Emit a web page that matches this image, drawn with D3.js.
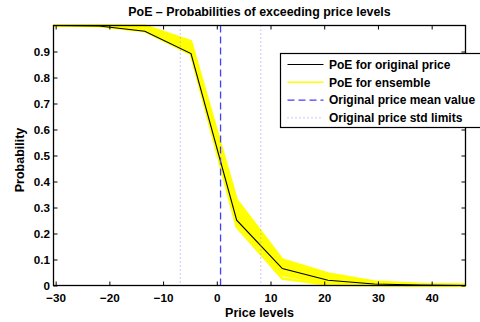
<!DOCTYPE html>
<html>
<head>
<meta charset="utf-8">
<script src="https://cdn.jsdelivr.net/npm/d3@7"></script>
<style>
  body { margin: 0; background: #fff; }
  svg text { font-family: "Liberation Sans", Arial, Helvetica, sans-serif; font-weight: bold; }
</style>
</head>
<body>
<svg width="480" height="322"></svg>
<script>
// price levels (x) and PoE for original price
var priceLevels = [-30.4, -21.9, -13.4, -4.8, 3.7, 12.2, 20.7, 29.3, 37.8, 46.3];
var poeOriginal = [1.0, 0.998, 0.978, 0.892, 0.251, 0.065, 0.02, 0.006, 0.002, 0.0];

// ensemble members
var ens1  = [1, 1,     1,     0.94,  0.33,  0.10,  0.046, 0.015, 0.006, 0.003];
var ens2  = [1, 1,     0.998, 0.93,  0.315, 0.092, 0.04,  0.012, 0.005, 0.002];
var ens3  = [1, 1,     0.995, 0.925, 0.30,  0.086, 0.035, 0.010, 0.004, 0.002];
var ens4  = [1, 1,     0.992, 0.918, 0.29,  0.080, 0.030, 0.009, 0.004, 0.001];
var ens5  = [1, 1,     0.99,  0.91,  0.28,  0.074, 0.027, 0.008, 0.003, 0.001];
var ens6  = [1, 1,     0.988, 0.905, 0.27,  0.068, 0.024, 0.007, 0.003, 0.001];
var ens7  = [1, 0.999, 0.985, 0.90,  0.26,  0.060, 0.019, 0.006, 0.002, 0.001];
var ens8  = [1, 0.999, 0.982, 0.896, 0.25,  0.050, 0.014, 0.004, 0.002, 0];
var ens9  = [1, 0.998, 0.98,  0.892, 0.24,  0.040, 0.009, 0.003, 0.001, 0];
var ens10 = [1, 0.998, 0.978, 0.89,  0.225, 0.027, 0.003, 0.001, 0,     0];
var ensemble = [ens1, ens2, ens3, ens4, ens5, ens6, ens7, ens8, ens9, ens10];

var priceMean = 0.7;
var priceStdLimits = [-6.8, 8.2];

var xTicks = [-30, -20, -10, 0, 10, 20, 30, 40];
var yTicks = [0, 0.1, 0.2, 0.3, 0.4, 0.5, 0.6, 0.7, 0.8, 0.9];

var legendLabels = ["PoE for original price", "PoE for ensemble",
                    "Original price mean value", "Original price std limits"];

var svg = d3.select("svg");
var pLeft = 53.5, pRight = 465.5, pTop = 25.5, pBottom = 285.5;

var x = d3.scaleLinear().domain([priceLevels[0], priceLevels[priceLevels.length - 1]]).range([pLeft, pRight]);
var y = d3.scaleLinear().domain([0, 1]).range([pBottom, pTop]);

var line = d3.line()
  .x(function(d, i) { return x(priceLevels[i]); })
  .y(function(d) { return y(d); });

var plot = svg.append("g");

plot.selectAll("path.ens")
    .data(ensemble)
  .enter()
  .append("path")
    .attr("class", "ens")
    .attr("d", line)
    .attr("fill", "none")
    .attr("stroke", "#ffff00")
    .attr("stroke-width", 2.5);

plot.append("path")
    .attr("d", line(poeOriginal))
    .attr("fill", "none")
    .attr("stroke", "#000")
    .attr("stroke-width", 1.1);

plot.append("line")
    .attr("x1", x(priceMean)).attr("x2", x(priceMean))
    .attr("y1", pTop).attr("y2", pBottom)
    .attr("stroke", "#4040ff")
    .attr("stroke-width", 1.3)
    .attr("stroke-dasharray", "7,4");

plot.selectAll("line.std")
    .data(priceStdLimits)
  .enter()
  .append("line")
    .attr("class", "std")
    .attr("x1", function(d) { return x(d); }).attr("x2", function(d) { return x(d); })
    .attr("y1", pTop).attr("y2", pBottom)
    .attr("stroke", "#8f8fff")
    .attr("stroke-width", 1)
    .attr("stroke-dasharray", "1,3");

// axes, MATLAB style with inward ticks and a box
svg.append("g")
    .attr("transform", "translate(0," + pBottom + ")")
    .call(d3.axisBottom(x).tickValues(xTicks).tickSizeInner(-4).tickSizeOuter(0).tickPadding(8)
      .tickFormat(function(d) { return d < 0 ? "\u2212" + Math.abs(d) : d; }));
svg.append("g")
    .attr("transform", "translate(0," + pTop + ")")
    .call(d3.axisTop(x).tickValues(xTicks).tickSizeInner(-4).tickSizeOuter(0).tickFormat(""));
svg.append("g")
    .attr("transform", "translate(" + pLeft + ",0)")
    .call(d3.axisLeft(y).tickValues(yTicks).tickSizeInner(-4).tickSizeOuter(0).tickPadding(3.5)
      .tickFormat(function(d) { return d === 0 ? "0" : d3.format(".1f")(d); }));
svg.append("g")
    .attr("transform", "translate(" + pRight + ",0)")
    .call(d3.axisRight(y).tickValues(yTicks).tickSizeInner(-4).tickSizeOuter(0).tickFormat(""));

svg.selectAll(".domain").remove();
svg.selectAll(".tick line").attr("stroke", "#000");
svg.selectAll(".tick text").attr("font-size", 11.7).attr("fill", "#000");

svg.append("rect")
    .attr("x", pLeft).attr("y", pTop)
    .attr("width", pRight - pLeft).attr("height", pBottom - pTop)
    .attr("fill", "none")
    .attr("stroke", "#000")
    .attr("stroke-width", 1.3);

svg.append("text")
    .attr("x", (pLeft + pRight) / 2).attr("y", 16)
    .attr("text-anchor", "middle")
    .attr("font-size", 12.4)
    .text("PoE \u2013 Probabilities of exceeding price levels");

svg.append("text")
    .attr("x", (pLeft + pRight) / 2).attr("y", 316.5)
    .attr("text-anchor", "middle")
    .attr("font-size", 12.5)
    .text("Price levels");

svg.append("text")
    .attr("transform", "translate(24,160) rotate(-90)")
    .attr("text-anchor", "middle")
    .attr("font-size", 12.5)
    .text("Probability");

// legend
var legend = svg.append("g").attr("transform", "translate(280.5,53.5)");
legend.append("rect")
    .attr("width", 210).attr("height", 74)
    .attr("fill", "#fff")
    .attr("stroke", "#000")
    .attr("stroke-width", 1.2);

var legendStyles = [
  { color: "#000", width: 1, dash: null },
  { color: "#ffff00", width: 1.5, dash: null },
  { color: "#4040ff", width: 1.2, dash: "7,4" },
  { color: "#8f8fff", width: 1, dash: "1,3" }
];

var rows = legend.selectAll("g.row")
    .data(legendLabels)
  .enter()
  .append("g")
    .attr("class", "row")
    .attr("transform", function(d, i) { return "translate(0," + (11 + i * 17.8) + ")"; });

rows.append("line")
    .attr("x1", 7).attr("x2", 43)
    .attr("stroke", function(d, i) { return legendStyles[i].color; })
    .attr("stroke-width", function(d, i) { return legendStyles[i].width; })
    .attr("stroke-dasharray", function(d, i) { return legendStyles[i].dash; });

rows.append("text")
    .attr("x", 48.5).attr("y", 4.3)
    .attr("font-size", 12)
    .text(function(d) { return d; });
</script>
</body>
</html>
